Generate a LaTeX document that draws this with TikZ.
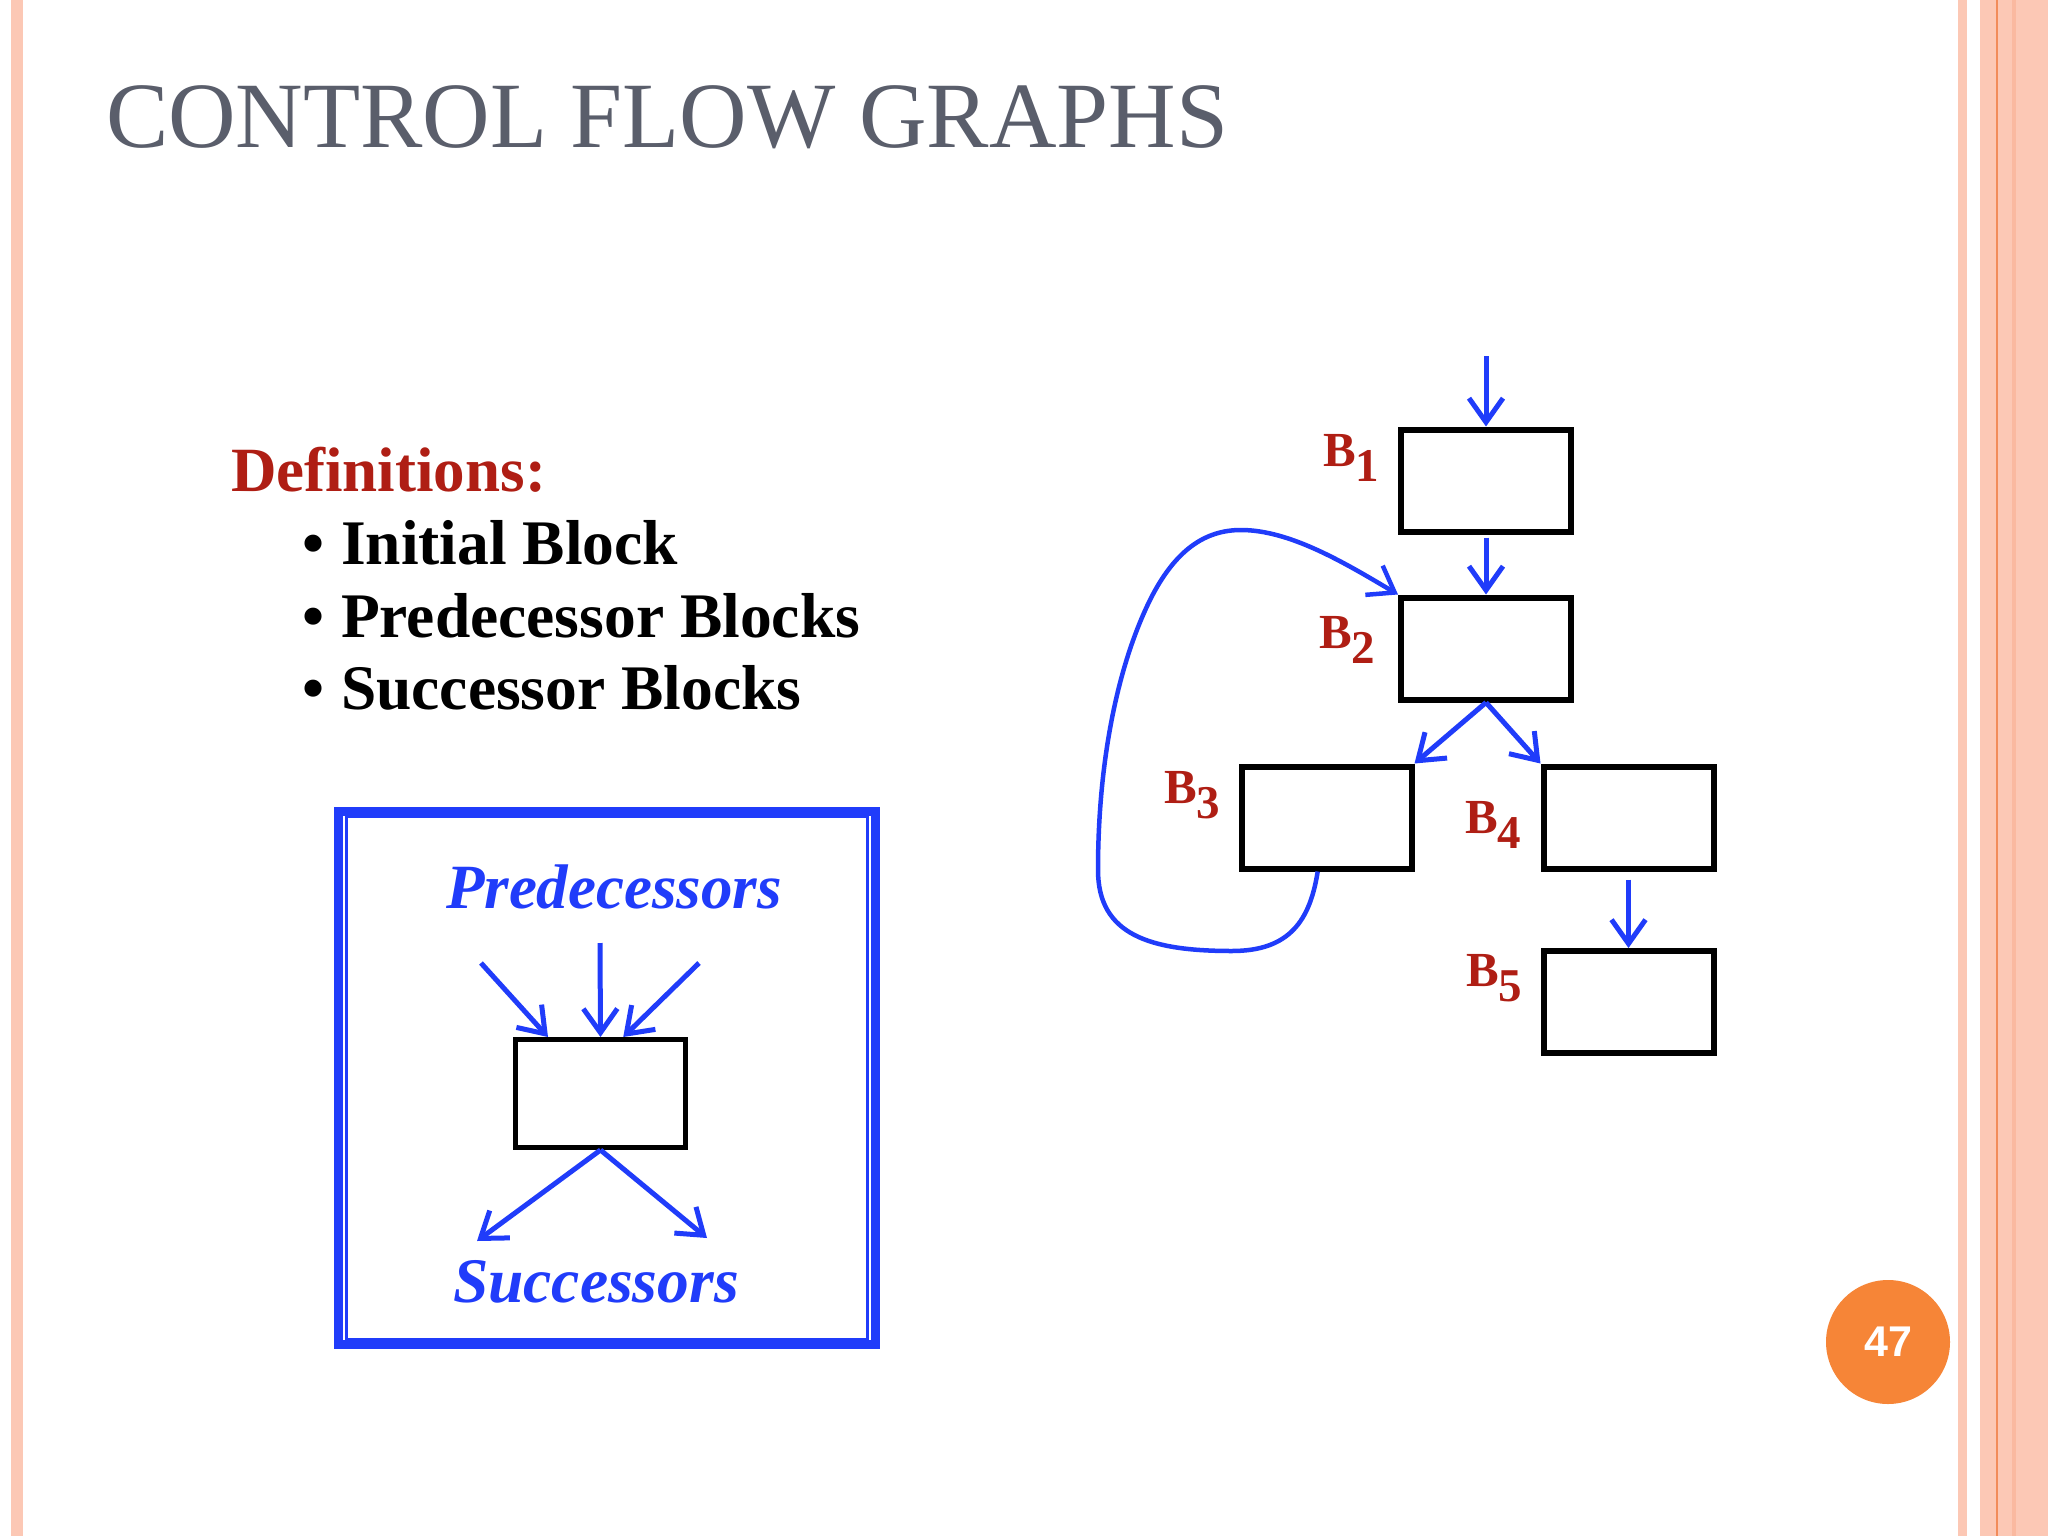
\documentclass[tikz,border=0pt]{standalone}
\usepackage{fontspec}
\setmainfont{Liberation Serif}
\newfontfamily\pgnumfont{Liberation Sans}
\usetikzlibrary{arrows.meta,calc}
\definecolor{stripe}{RGB}{252,200,181}
\definecolor{stripedark}{RGB}{242,140,90}
\definecolor{stripemid}{RGB}{250,185,160}
\definecolor{titlegray}{RGB}{90,94,107}
\definecolor{defred}{RGB}{175,30,20}
\definecolor{cblue}{RGB}{32,60,250}
\definecolor{pgorange}{RGB}{246,133,55}
\tikzset{
  txt/.style={anchor=base west, inner sep=0pt, outer sep=0pt},
  blk/.style={draw=black, line width=6pt, minimum width=170pt, minimum height=102pt, inner sep=0pt},
  flow/.style={draw=cblue, line width=5pt, -{Straight Barb[length=24pt,width=34pt]}},
  backflow/.style={draw=cblue, line width=4.5pt, -{Straight Barb[length=24pt,width=34pt]}},
  blab/.style={txt, text=defred, font=\fontsize{49}{50}\selectfont\bfseries},
}
\newcommand{\blabel}[1]{B\raisebox{-15pt}{\fontsize{47}{47}\selectfont #1}}
\begin{document}
\begin{tikzpicture}[x=1pt,y=-1pt]
\useasboundingbox (0,0) rectangle (2048,1536);
\fill[white] (0,0) rectangle (2048,1536);
% side stripes
\fill[stripe] (11,0) rectangle (23,1536);
\fill[stripe] (1958,0) rectangle (1967,1536);
\fill[stripe] (1980,0) rectangle (2048,1536);
\fill[stripedark] (1996,0) rectangle (1998,1536);
\fill[stripemid] (2012,0) rectangle (2016,1536);
% title
\node[txt, text=titlegray, font=\fontsize{93.5}{100}\selectfont] (title) at (106,148) {CONTROL FLOW GRAPHS};
% definitions
\node[txt, text=defred, font=\fontsize{63}{66}\selectfont\bfseries] (defs) at (231,491) {Definitions:};
\node[txt, font=\fontsize{63}{66}\selectfont\bfseries] (b1) at (302,564) {\textbullet};
\node[txt, font=\fontsize{63.5}{66}\selectfont\bfseries] (d1) at (341,564) {Initial Block};
\node[txt, font=\fontsize{63}{66}\selectfont\bfseries] (b2) at (302,637) {\textbullet};
\node[txt, font=\fontsize{63.5}{66}\selectfont\bfseries] (d2) at (341,637) {Predecessor Blocks};
\node[txt, font=\fontsize{63}{66}\selectfont\bfseries] (b3) at (302,709) {\textbullet};
\node[txt, font=\fontsize{63.5}{66}\selectfont\bfseries] (d3) at (341,709) {Successor Blocks};
% pred/succ frame
\draw[cblue, line width=9pt] (338,811) rectangle (875.5,1344.5);
\draw[cblue, line width=3pt] (346.5,816) rectangle (867.5,1339.5);
\node[txt, text=cblue, font=\fontsize{63}{66}\selectfont\bfseries\itshape] (pred) at (446,908) {Predecessors};
\node[txt, text=cblue, font=\fontsize{63.5}{66}\selectfont\bfseries\itshape] (succ) at (453,1302) {Successors};
\node[draw=black, line width=5pt, minimum width=170pt, minimum height=108pt, inner sep=0pt] (P) at (600.5,1093.5) {};
\coordinate (pa) at (481,963);
\coordinate (pb) at (600,943);
\coordinate (pc) at (699,963);
\coordinate (sa) at (477,1241);
\coordinate (sb) at (707,1238);
\draw[flow] (pa) -- ($(P.north west)!0.2!(P.north east)$);
\draw[flow] (pb) -- (P.north);
\draw[flow] (pc) -- ($(P.north west)!0.63!(P.north east)$);
\draw[flow] (P.south) -- (sa);
\draw[flow] (P.south) -- (sb);
% CFG
\node[blk] (B1) at (1486,480.5) {};
\node[blk] (B2) at (1486,648.5) {};
\node[blk] (B3) at (1326.5,817.5) {};
\node[blk] (B4) at (1628.5,817.5) {};
\node[blk] (B5) at (1628.5,1002) {};
\node[blab] (L1) at (1323,466) {\blabel{1}};
\node[blab] (L2) at (1319,648) {\blabel{2}};
\node[blab] (L3) at (1164,803) {\blabel{3}};
\node[blab] (L4) at (1465,833) {\blabel{4}};
\node[blab] (L5) at (1466,986) {\blabel{5}};
\coordinate (entry) at (1486,356);
\draw[flow] (entry) -- (B1.north);
\draw[flow, shorten <=3pt] (B1.south) -- (B2.north);
\draw[flow] (B2.south) -- (B3.north east);
\draw[flow] (B2.south) -- (B4.north west);
\draw[flow, shorten <=8pt] (B4.south) -- (B5.north);
\coordinate (lp) at ($(B3.south west)!0.45!(B3.south east)$);
\draw[backflow] (lp) .. controls (1310,920) and (1290,951) .. (1232,951)
  .. controls (1150,951) and (1098,935) .. (1098,870)
  .. controls (1098,760) and (1118,665) .. (1150,600)
  .. controls (1175,550) and (1205,530) .. (1241,530)
  .. controls (1290,530) and (1345,563) .. (B2.north west);
% page number
\node[circle, fill=pgorange, minimum size=124pt, inner sep=0pt, text=white, font=\pgnumfont\bfseries\fontsize{43}{43}\selectfont] (pg) at (1888,1342) {47};
\end{tikzpicture}
\end{document}
